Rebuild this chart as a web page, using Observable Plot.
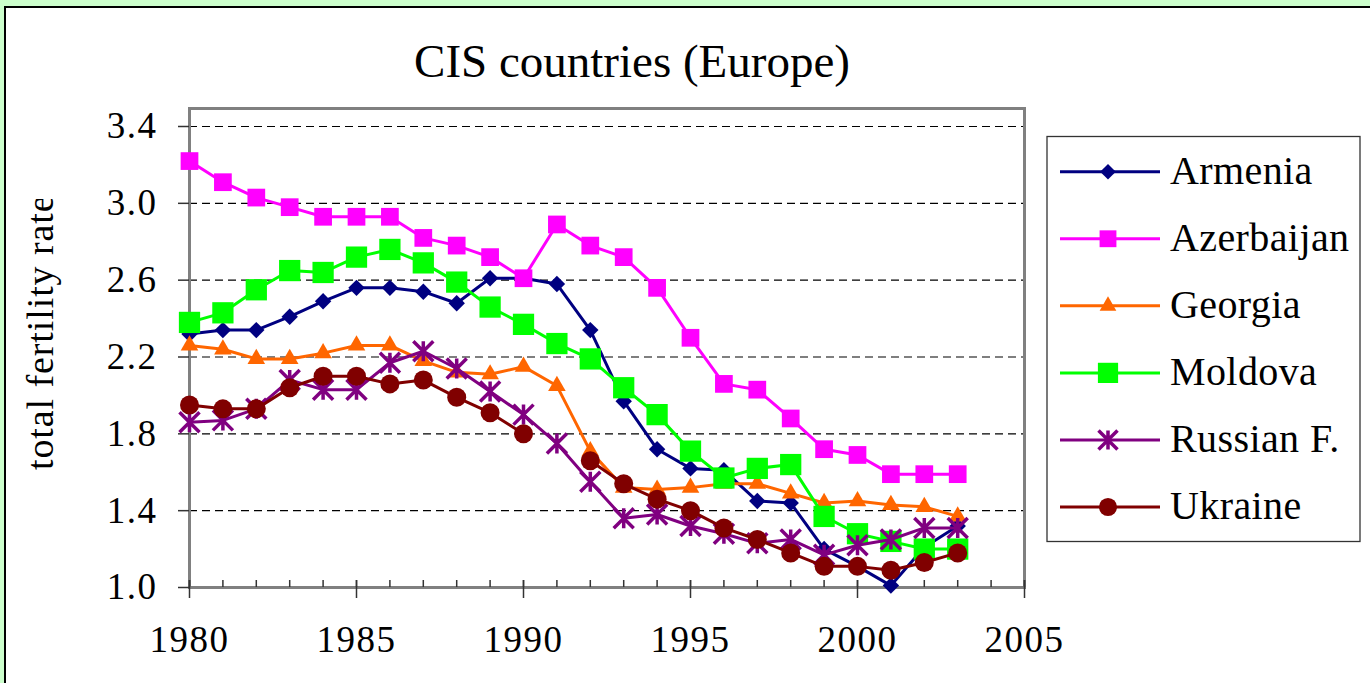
<!DOCTYPE html>
<html>
<head>
<meta charset="utf-8">
<script src="https://cdn.jsdelivr.net/npm/d3@7"></script>
<script src="https://cdn.jsdelivr.net/npm/@observablehq/plot@0.6"></script>
<style>
  html, body { margin: 0; padding: 0; width: 1370px; height: 683px; overflow: hidden; background: #ccffcc; }
  * { font-family: "Liberation Serif", "Times New Roman", serif !important; }
  #panel { position: absolute; left: 4px; top: 6px; width: 1400px; height: 700px; background: #fff; border-left: 2px solid #000; border-top: 2px solid #000; }
  #chart { position: absolute; left: 0; top: 0; }
</style>
</head>
<body>
<div id="panel"></div>
<div id="chart"></div>
<script>
// ---- data ----
const title = "CIS countries (Europe)";
const yLabel = "total fertility rate";
const years = [1980,1981,1982,1983,1984,1985,1986,1987,1988,1989,1990,1991,1992,1993,1994,1995,1996,1997,1998,1999,2000,2001,2002,2003];
const countries = ["Armenia","Azerbaijan","Georgia","Moldova","Russian F.","Ukraine"];
const armenia    = [2.32,2.34,2.34,2.41,2.49,2.56,2.56,2.54,2.48,2.61,2.61,2.58,2.34,1.97,1.72,1.62,1.61,1.45,1.44,1.20,1.11,1.01,1.21,1.32];
const azerbaijan = [3.22,3.11,3.03,2.98,2.93,2.93,2.93,2.82,2.78,2.72,2.61,2.89,2.78,2.72,2.56,2.30,2.06,2.03,1.88,1.72,1.69,1.59,1.59,1.59];
const georgia    = [2.26,2.24,2.19,2.19,2.22,2.26,2.26,2.18,2.12,2.11,2.15,2.05,1.71,1.52,1.51,1.52,1.54,1.54,1.49,1.44,1.45,1.43,1.42,1.37];
const moldova    = [2.38,2.43,2.55,2.65,2.64,2.72,2.76,2.69,2.59,2.46,2.37,2.27,2.19,2.04,1.90,1.71,1.57,1.62,1.64,1.37,1.28,1.24,1.20,1.20];
const russia     = [1.86,1.87,1.93,2.08,2.03,2.03,2.17,2.23,2.14,2.02,1.90,1.75,1.55,1.36,1.38,1.32,1.28,1.23,1.25,1.17,1.22,1.25,1.31,1.31];
const ukraine    = [1.95,1.93,1.93,2.04,2.10,2.10,2.06,2.08,1.99,1.91,1.80,null,1.66,1.54,1.46,1.40,1.31,1.25,1.18,1.11,1.11,1.09,1.13,1.18];
const yTicks = [1.0,1.4,1.8,2.2,2.6,3.0,3.4];
const yGrid  = [1.4,1.8,2.2,2.6,3.0,3.4];
const xTicks = [1980,1985,1990,1995,2000,2005];
const xMinor = [1980,1981,1982,1983,1984,1985,1986,1987,1988,1989,1990,1991,1992,1993,1994,1995,1996,1997,1998,1999,2000,2001,2002,2003,2004,2005];

const FONT = '"Liberation Serif", "Times New Roman", serif';
const BASE = 30;       // glyphs of large labels are drawn at this size and scaled up

// ---- styling ----
const star = {
  draw(ctx, size) {
    const h = Math.sqrt(size / Math.PI);
    ctx.moveTo(0, -h); ctx.lineTo(0, h);
    ctx.moveTo(-h, -h); ctx.lineTo(h, h);
    ctx.moveTo(-h, h); ctx.lineTo(h, -h);
  }
};
const styles = [
  {name: countries[0], values: armenia,    color: "#000080", symbol: "diamond2", r: 7.4, filled: true},
  {name: countries[1], values: azerbaijan, color: "#ff00ff", symbol: "square",   r: 10, filled: true},
  {name: countries[2], values: georgia,    color: "#ff6600", symbol: "triangle2", r: 8.4, filled: true},
  {name: countries[3], values: moldova,    color: "#00ff00", symbol: "square",   r: 12, filled: true},
  {name: countries[4], values: russia,     color: "#800080", symbol: star,       r: 10, filled: false},
  {name: countries[5], values: ukraine,    color: "#800000", symbol: "circle",   r: 9.5, filled: true}
];

const marks = [
  Plot.ruleY(yGrid, {stroke: "#000", strokeWidth: 1.2, strokeDasharray: "8,5"}),
  Plot.frame({stroke: "#808080", strokeWidth: 3}),
  Plot.axisY({ticks: yTicks, tickFormat: d => d.toFixed(1), tickSize: 11, tickPadding: 21, stroke: "#333", strokeWidth: 1.5, fontSize: 37, fill: "#000"}),
  Plot.tickX(xMinor, {x: d => d, insetTop: 472, stroke: "#333", strokeWidth: 1.5}),
  Plot.tickX(xTicks, {x: d => d, insetTop: 472, insetBottom: -11, stroke: "#333", strokeWidth: 1.5}),
  Plot.axisX({ticks: xTicks, tickFormat: d => String(d), tickSize: 0, tickPadding: 38, fontSize: 37, fill: "#000"})
];
for (const s of styles) {
  const rows = years.map((yr, i) => ({year: yr, v: s.values[i]}));
  marks.push(Plot.line(rows, {x: "year", y: "v", stroke: s.color, strokeWidth: 3}));
  const defined = rows.filter(d => d.v != null);
  marks.push(Plot.dot(defined, s.filled
    ? {x: "year", y: "v", symbol: s.symbol, r: s.r, fill: s.color, stroke: "none"}
    : {x: "year", y: "v", symbol: s.symbol, r: s.r, fill: "none", stroke: s.color, strokeWidth: 3.5}));
}

const chart = Plot.plot({
  width: 1370,
  height: 683,
  marginLeft: 189,
  marginRight: 346,
  marginTop: 108,
  marginBottom: 96,
  style: {fontFamily: FONT, fontSize: "37px", background: "transparent", color: "#000", overflow: "visible"},
  x: {domain: [1980, 2005], label: null},
  y: {domain: [1.0, 3.4937], label: null},
  marks
});
chart.querySelectorAll("text").forEach(t => {
  t.setAttribute("font-family", FONT);
  t.style.letterSpacing = "1.5px";
});
document.getElementById("chart").appendChild(chart);

// ---- other texts and legend, drawn into the same SVG ----
const svg = d3.select(chart);
function addText(parent, str, x, y, size, anchor, rotate, spacing) {
  const k = size / BASE;
  return parent.append("text")
    .attr("transform", `translate(${x},${y}) rotate(${rotate || 0}) scale(${k})`)
    .attr("font-family", FONT)
    .attr("font-size", BASE)
    .attr("text-anchor", anchor)
    .attr("fill", "#000")
    .style("letter-spacing", spacing ? (spacing / k) + "px" : null)
    .text(str);
}
addText(svg, title, 632, 77, 47, "middle", 0, 0);

const defs = svg.append("defs");
defs.append("clipPath").attr("id", "ylabclip").append("rect").attr("x", 0).attr("y", 199).attr("width", 120).attr("height", 484);
const ylabG = svg.append("g").attr("clip-path", "url(#ylabclip)");
addText(ylabG, yLabel, 53, 470, 38, "start", -90, 0.9);

const lg = svg.append("g");
lg.append("rect").attr("x", 1047).attr("y", 136.5).attr("width", 313).attr("height", 405).attr("fill", "#fff").attr("stroke", "#333").attr("stroke-width", 1.3);
const symMap = {diamond2: d3.symbolDiamond2, square: d3.symbolSquare, triangle2: d3.symbolTriangle2, circle: d3.symbolCircle};
styles.forEach((s, i) => {
  const cy = 171.7 + i * 67.06;
  lg.append("line").attr("x1", 1060).attr("x2", 1160).attr("y1", cy).attr("y2", cy).attr("stroke", s.color).attr("stroke-width", 3);
  const sym = typeof s.symbol === "string" ? symMap[s.symbol] : s.symbol;
  const rr = s.r * 0.95;
  lg.append("path")
    .attr("transform", `translate(1108,${cy})`)
    .attr("d", d3.symbol(sym, rr * rr * Math.PI)())
    .attr("fill", s.filled ? s.color : "none")
    .attr("stroke", s.filled ? "none" : s.color)
    .attr("stroke-width", 3.5);
  addText(lg, s.name, 1170, cy + 12, 40, "start", 0, 0.4);
});
</script>
</body>
</html>
